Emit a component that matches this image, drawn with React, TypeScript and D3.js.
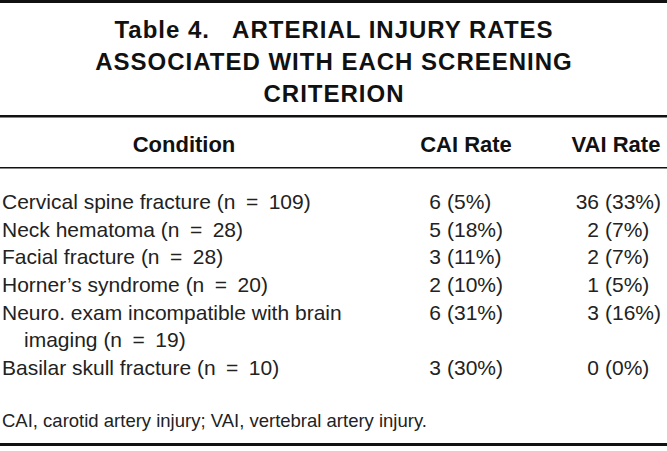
import * as d3 from 'd3';

// table content
const titleLines = ['Table 4.   ARTERIAL INJURY RATES', 'ASSOCIATED WITH EACH SCREENING', 'CRITERION'];
const headers = ['Condition', 'CAI Rate', 'VAI Rate'];
const conditions = [
  ['Cervical spine fracture (n\u2002=\u2002109)'],
  ['Neck hematoma (n\u2002=\u200228)'],
  ['Facial fracture (n\u2002=\u200228)'],
  ['Horner\u2019s syndrome (n\u2002=\u200220)'],
  ['Neuro. exam incompatible with brain', 'imaging (n\u2002=\u200219)'],
  ['Basilar skull fracture (n\u2002=\u200210)'],
];
const caiCounts = [6, 5, 3, 2, 6, 3];
const caiPct = [5, 18, 11, 10, 31, 30];
const vaiCounts = [36, 2, 2, 1, 3, 0];
const vaiPct = [33, 7, 7, 5, 16, 0];
const footnote = 'CAI, carotid artery injury; VAI, vertebral artery injury.';

const W = 667;
const H = 451;
const font = '"Liberation Sans", Arial, Helvetica, sans-serif';

export default function App() {
  // line index -> baseline
  const lineY = d3.scaleLinear().domain([0, 6]).range([209, 375]);
  const titleY = d3.scaleLinear().domain([0, 2]).range([38, 102]);
  // condition left edge, count column right edges
  const colX = d3.scaleOrdinal<string, number>().domain(['cond', 'cai', 'vai']).range([2, 441, 599]);
  const headX = d3.scaleOrdinal<string, number>().domain(headers).range([184, 466, 616]);

  let li = 0;
  const rows = conditions.map((c, i) => {
    const start = li;
    li += c.length;
    return { lines: c, start, i };
  });

  return (
    <svg width={W} height={H} style={{ display: 'block', position: 'absolute', left: 0, top: 0, background: '#fff' }}
      fontFamily={font}>
      <rect x={0} y={0} width={W} height={3} fill="#111" />
      {titleLines.map((t, i) => (
        <text key={t} x={334} y={titleY(i)} textAnchor="middle" fontSize={24} fontWeight="bold" fill="#111"
          style={{ whiteSpace: 'pre', letterSpacing: '1px' }}>{t}</text>
      ))}
      <rect x={0} y={115} width={W} height={2.5} fill="#111" />
      {headers.map((h) => (
        <text key={h} x={headX(h)} y={152} textAnchor="middle" fontSize={22} fontWeight="bold" fill="#111">{h}</text>
      ))}
      <rect x={0} y={167} width={W} height={1.5} fill="#111" />
      {rows.map((r) => (
        <g key={r.i} fontSize={21} fill="#222">
          {r.lines.map((l, j) => (
            <text key={j} x={colX('cond') + (j > 0 ? 22 : 0)} y={lineY(r.start + j)}>{l}</text>
          ))}
          <text x={colX('cai')} y={lineY(r.start)} textAnchor="end">{caiCounts[r.i]}</text>
          <text x={colX('cai') + 6} y={lineY(r.start)}>{`(${caiPct[r.i]}%)`}</text>
          <text x={colX('vai')} y={lineY(r.start)} textAnchor="end">{vaiCounts[r.i]}</text>
          <text x={colX('vai') + 6} y={lineY(r.start)}>{`(${vaiPct[r.i]}%)`}</text>
        </g>
      ))}
      <text x={2} y={427} fontSize={18.5} fill="#222">{footnote}</text>
      <rect x={0} y={443} width={W} height={3} fill="#111" />
    </svg>
  );
}
